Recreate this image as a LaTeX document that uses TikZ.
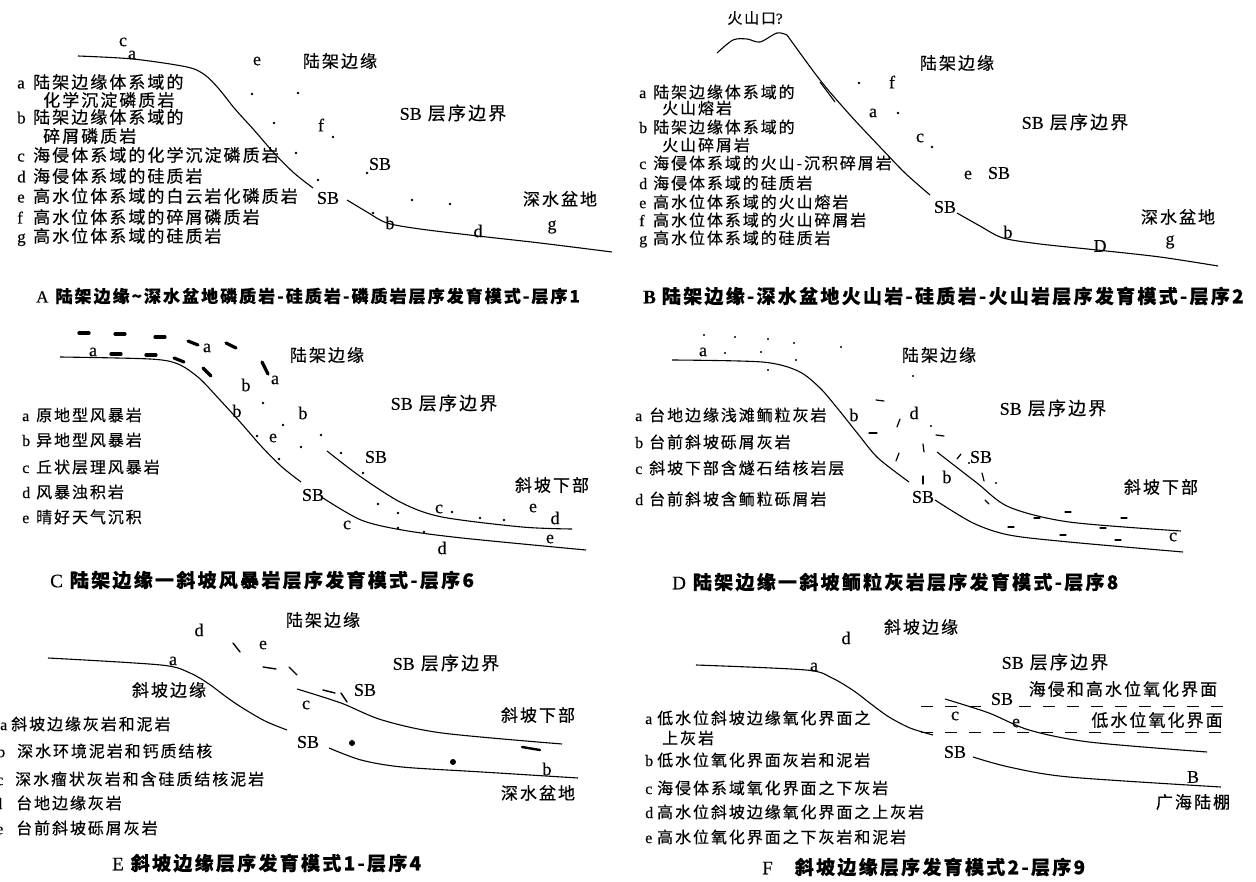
\documentclass[tikz,border=0pt]{standalone}
\usepackage{fontspec}
\setmainfont{Liberation Serif}[FakeBold=0.3]
\newfontfamily\cjk[LetterSpace=12,FakeBold=0.4]{Noto Sans CJK SC}
\newcommand{\zh}[1]{{\cjk #1}}
\newcommand{\key}[3][15pt]{\makebox[#1][l]{#2}\zh{#3}}
\usetikzlibrary{positioning}
\tikzset{
  profile/.style={line width=1.1pt},
  tag/.style={inner sep=0pt, font=\fontsize{18}{18}\selectfont},
  area/.style={inner sep=0pt, font=\cjk\fontsize{17}{17}\selectfont},
  keyline/.style={anchor=west, inner sep=0pt, font=\fontsize{17}{17}\selectfont},
  keysmall/.style={keyline, font=\fontsize{16}{16}\selectfont},
  title/.style={anchor=west, inner sep=0pt, font=\fontsize{19}{19}\selectfont},
  blob/.style={line width=3.2pt, line cap=round},
  chip/.style={line width=1.2pt, line cap=round},
  oxline/.style={line width=0.9pt, dash pattern=on 12pt off 12pt},
}

\begin{document}
\begin{tikzpicture}[x=1pt, y=-1pt]
\fill[white] (0,0) rectangle (1256,882);
\useasboundingbox (0,0) rectangle (1256,882);

% ---------------- A : phosphorite / chert, sequence 1
\draw[profile] plot[smooth] coordinates {(78,56) (133,59) (187,67) (205,75) (219,89) (235,109) (254,130) (274,153) (294,173) (313,188)};
\draw[profile] plot[smooth] coordinates {(347,200) (367,212) (387,223) (420,229) (478,236) (540,243) (612,252)};
\foreach \x/\y in {252/94,298/93,274/123,333/137,296/153,318/180,367/173,373/213,412/200,450/204}
  \fill (\x,\y) circle (1.3);
\node[tag] (Ac) at (123,42) {c};
\node[tag] (Aa) at (132,55) {a};
\node[tag] (Ae) at (257,61) {e};
\node[area] (Ashelf) at (340,61) {陆架边缘};
\node[tag] (Af) at (321,125) {f};
\node[tag] (Asb1) at (380,164) {SB};
\node[tag] (Asb2) at (328,198) {SB};
\node[tag] (Ab) at (390,223) {b};
\node[tag] (Ad) at (478,231) {d};
\node[tag] (Ag) at (552,227) {g};
\node[tag] (Asb) at (453,113) {SB\hspace{6pt}\zh{层序边界}};
\node[area] (Abasin) at (560,199) {深水盆地};
\node[keyline] (Ka) at (17,82) {\key[16pt]{a}{陆架边缘体系域的}};
\node[keyline] (Ka2) at (43,100) {\zh{化学沉淀磷质岩}};
\node[keyline] (Kb) at (17,117) {\key[16pt]{b}{陆架边缘体系域的}};
\node[keyline] (Kb2) at (43,136) {\zh{碎屑磷质岩}};
\node[keyline] (Kc) at (17,155) {\key[16pt]{c}{海侵体系域的化学沉淀磷质岩}};
\node[keyline] (Kd) at (17,176) {\key[16pt]{d}{海侵体系域的硅质岩}};
\node[keyline] (Ke) at (17,196) {\key[16pt]{e}{高水位体系域的白云岩化磷质岩}};
\node[keyline] (Kf) at (17,217) {\key[16pt]{f}{高水位体系域的碎屑磷质岩}};
\node[keyline] (Kg) at (17,237) {\key[16pt]{g}{高水位体系域的硅质岩}};
\node[title, font=\fontsize{17}{17}\selectfont] (capA) at (36,296) {A\hspace{7pt}{\cjk\bfseries 陆架边缘\textasciitilde 深水盆地磷质岩-硅质岩-磷质岩层序发育模式-层序1}};

% ---------------- B : volcanics / chert, sequence 2
\draw[profile] plot[smooth] coordinates {(717,53) (733,40) (747,39) (760,42) (777,33) (787,35)};
\draw[profile] plot[smooth] coordinates {(787,35) (820,80) (850,115) (880,147) (905,173) (930,195)};
\draw[profile] (820,82) -- (835,102);
\draw[profile] plot[smooth] coordinates {(957,213) (980,226) (1003,238) (1040,244) (1097,250) (1160,257) (1218,266)};
\foreach \x/\y in {859/83,898/113,932/147}
  \fill (\x,\y) circle (1.3);
\node[inner sep=0pt, font=\fontsize{15}{15}\selectfont] (vent) at (755,18) {\zh{火山口}?};
\node[area] (Bshelf) at (957,63) {陆架边缘};
\node[tag] (Bf) at (892,82) {f};
\node[tag] (Ba) at (873,113) {a};
\node[tag] (Bc) at (920,138) {c};
\node[tag] (Be) at (968,175) {e};
\node[tag] (Bsb1) at (999,173) {SB};
\node[tag] (Bsb2) at (945,207) {SB};
\node[tag] (Bb) at (1008,232) {b};
\node[tag] (BD) at (1100,246) {D};
\node[tag] (Bg) at (1170,242) {g};
\node[tag] (Bsb) at (1075,122) {SB\hspace{6pt}\zh{层序边界}};
\node[area] (Bbasin) at (1178,217) {深水盆地};
\node[keysmall] (La) at (639,92) {\key[14pt]{a}{陆架边缘体系域的}};
\node[keysmall] (La2) at (662,108) {\zh{火山熔岩}};
\node[keysmall] (Lb) at (639,127) {\key[14pt]{b}{陆架边缘体系域的}};
\node[keysmall] (Lb2) at (662,145) {\zh{火山碎屑岩}};
\node[keysmall] (Lc) at (639,163) {\key[14pt]{c}{海侵体系域的火山-沉积碎屑岩}};
\node[keysmall] (Ld) at (639,183) {\key[14pt]{d}{海侵体系域的硅质岩}};
\node[keysmall] (Le) at (639,202) {\key[14pt]{e}{高水位体系域的火山熔岩}};
\node[keysmall] (Lf) at (639,220) {\key[14pt]{f}{高水位体系域的火山碎屑岩}};
\node[keysmall] (Lg) at (639,239) {\key[14pt]{g}{高水位体系域的硅质岩}};
\node[title] (capB) at (643,296) {\bfseries B\hspace{6pt}{\cjk\bfseries 陆架边缘-深水盆地火山岩-硅质岩-火山岩层序发育模式-层序2}};

% ---------------- C : tempestites, sequence 6
\draw[profile] plot[smooth] coordinates {(60,357) (150,359) (178,364) (199,378) (220,400) (241,423) (262,447) (282,467) (301,482)};
\draw[profile] plot[smooth] coordinates {(327,451) (361,477) (402,503) (442,517) (522,527) (572,529)};
\draw[profile] plot[smooth] coordinates {(323,498) (361,520) (402,530) (462,538) (586,550)};
\foreach \xa/\ya/\xb/\yb in {79/333/89/333,115/334/125/334,155/337/165/337,111/354/121/354,146/355/156/355,
                              188/341/198/345,226/343/236/348,174/358/184/362,203/368/211/376,262/362/268/374}
  \draw[blob] (\xa,\ya) -- (\xb,\yb);
\foreach \x/\y in {263/403,283/425,257/436,321/435,301/447,279/459,341/453,363/473,
                   378/504,398/513,398/528,424/532,452/512,480/518,504/520}
  \fill (\x,\y) circle (1.3);
\node[tag] (Ca1) at (93,352) {a};
\node[tag] (Ca2) at (207,348) {a};
\node[tag] (Ca3) at (275,380) {a};
\node[area] (Cshelf) at (327,355) {陆架边缘};
\node[tag] (Cb1) at (246,385) {b};
\node[tag] (Cb2) at (237,411) {b};
\node[tag] (Cb3) at (303,413) {b};
\node[tag] (Ce1) at (273,438) {e};
\node[tag] (Csb) at (444,403) {SB\hspace{6pt}\zh{层序边界}};
\node[tag] (Csb1) at (376,457) {SB};
\node[tag] (Csb2) at (313,495) {SB};
\node[area] (Cslope) at (552,485) {斜坡下部};
\node[tag] (Cc1) at (439,509) {c};
\node[tag] (Cc2) at (347,525) {c};
\node[tag] (Ce2) at (533,508) {e};
\node[tag] (Cd1) at (555,518) {d};
\node[tag] (Ce3) at (550,539) {e};
\node[tag] (Cd2) at (442,548) {d};
\node[keysmall] (Ma) at (22,415) {\key[14pt]{a}{原地型风暴岩}};
\node[keysmall] (Mb) at (22,440) {\key[14pt]{b}{异地型风暴岩}};
\node[keysmall] (Mc) at (22,467) {\key[14pt]{c}{丘状层理风暴岩}};
\node[keysmall] (Md) at (22,492) {\key[14pt]{d}{风暴浊积岩}};
\node[keysmall] (Me) at (22,517) {\key[14pt]{e}{晴好天气沉积}};
\node[title] (capC) at (50,580) {C\hspace{7pt}{\cjk\bfseries 陆架边缘一斜坡风暴岩层序发育模式-层序6}};

% ---------------- D : oolitic limestone, sequence 8
\draw[profile] plot[smooth] coordinates {(672,360) (762,362) (798,371) (820,388) (838,409) (858,434) (878,458) (909,482)};
\draw[profile] plot[smooth] coordinates {(937,452) (977,483) (1009,507) (1069,522) (1181,531)};
\draw[profile] plot[smooth] coordinates {(935,500) (973,523) (1009,535) (1069,542) (1183,552)};
\foreach \x/\y in {704/335,735/337,768/339,794/343,841/347,725/353,761/352,796/360,768/370,
                   913/376,931/426,969/463,996/483}
  \fill (\x,\y) circle (1.2);
\foreach \xa/\ya/\xb/\yb in {876/400/884/401,869/433/877/433,897/427/900/419,896/461/899/453,
                              923/444/924/452,923/476/923/484,936/435/944/436,957/459/961/454,
                              982/473/984/481,985/500/989/504,
                              1034/518/1040/518,1065/512/1071/512,1121/518/1127/518,1008/527/1014/527,
                              1060/535/1066/535,1100/528/1106/528,1115/540/1121/540}
  \draw[chip] (\xa,\ya) -- (\xb,\yb);
\node[tag] (Da) at (703,352) {a};
\node[area] (Dshelf) at (939,355) {陆架边缘};
\node[tag] (Db1) at (854,415) {b};
\node[tag] (Dd) at (914,413) {d};
\node[tag] (Dsb) at (1053,408) {SB\hspace{6pt}\zh{层序边界}};
\node[tag] (Dsb1) at (981,457) {SB};
\node[tag] (Db2) at (947,477) {b};
\node[tag] (Dsb2) at (923,497) {SB};
\node[area] (Dslope) at (1161,487) {斜坡下部};
\node[tag] (Dc) at (1173,537) {c};
\node[keysmall] (Na) at (635,415) {\key[14pt]{a}{台地边缘浅滩鲕粒灰岩}};
\node[keysmall] (Nb) at (635,442) {\key[14pt]{b}{台前斜坡砾屑灰岩}};
\node[keysmall] (Nc) at (635,468) {\key[14pt]{c}{斜坡下部含燧石结核岩层}};
\node[keysmall] (Nd) at (635,499) {\key[14pt]{d}{台前斜坡含鲕粒砾屑岩}};
\node[title] (capD) at (672,582) {D\hspace{7pt}{\cjk\bfseries 陆架边缘一斜坡鲕粒灰岩层序发育模式-层序8}};

% ---------------- E : slope margin model 1, sequence 4
\draw[profile] plot[smooth] coordinates {(48,658) (161,665) (190,673) (209,684) (225,696) (241,707) (265,721) (287,730)};
\draw[profile] plot[smooth] coordinates {(297,689) (341,703) (382,720) (442,733) (562,744)};
\draw[profile] plot[smooth] coordinates {(329,748) (361,760) (402,767) (482,772) (578,778)};
\foreach \xa/\ya/\xb/\yb in {233/643/240/652,263/667/276/669,289/667/297/675,323/690/335/693,341/693/347/702}
  \draw[chip, line width=1.4pt] (\xa,\ya) -- (\xb,\yb);
\draw[blob, line width=2.4pt] (522,747) -- (540,750);
\fill (352,743) circle (3);
\fill (453,762) circle (3);
\node[area] (Eshelf) at (323,620) {陆架边缘};
\node[tag] (Ed) at (199,630) {d};
\node[tag] (Ee) at (263,645) {e};
\node[tag] (Ea) at (173,661) {a};
\node[area] (Emargin) at (169,690) {斜坡边缘};
\node[tag] (Esb) at (446,663) {SB\hspace{6pt}\zh{层序边界}};
\node[tag] (Esb1) at (365,690) {SB};
\node[tag] (Ec) at (306,705) {c};
\node[area] (Eslope) at (538,715) {斜坡下部};
\node[tag] (Esb2) at (308,742) {SB};
\node[tag] (Eb) at (547,769) {b};
\node[area] (Ebasin) at (538,793) {深水盆地};
\node[keysmall] (Pa) at (0,724) {\key[11pt]{a}{斜坡边缘灰岩和泥岩}};
\node[keysmall] (Pb) at (-3,751) {\key[20pt]{b}{深水环境泥岩和钙质结核}};
\node[keysmall] (Pc) at (-4,779) {\key[19pt]{c}{深水瘤状灰岩和含硅质结核泥岩}};
\node[keysmall] (Pd) at (-6,803) {\key[22pt]{d}{台地边缘灰岩}};
\node[keysmall] (Pe) at (-4,828) {\key[20pt]{e}{台前斜坡砾屑灰岩}};
\node[title] (capE) at (112,863) {E\hspace{7pt}{\cjk\bfseries 斜坡边缘层序发育模式1-层序4}};

% ---------------- F : slope margin model 2, sequence 9
\draw[profile] plot[smooth] coordinates {(696,665) (806,670) (832,678) (854,691) (871,704) (889,717) (910,728) (933,735)};
\draw[profile] plot[smooth] coordinates {(945,699) (989,713) (1029,730) (1089,742) (1207,752)};
\draw[profile] plot[smooth] coordinates {(973,757) (1009,767) (1069,777) (1221,787)};
\draw[oxline] (921,706) -- (987,706);
\draw[oxline] (1019,706) -- (1227,706);
\draw[oxline] (921,732) -- (1227,732);
\node[area] (Fmargin) at (921,627) {斜坡边缘};
\node[tag] (Fd) at (846,638) {d};
\node[tag] (Fa) at (814,667) {a};
\node[tag] (Fsb) at (1055,662) {SB\hspace{6pt}\zh{层序边界}};
\node[tag] (Fsb1) at (1002,699) {SB};
\node[area] (Fox1) at (1123,689) {海侵和高水位氧化界面};
\node[tag] (Fc) at (955,716) {c};
\node[tag] (Fe) at (1016,723) {e};
\node[area] (Fox2) at (1157,720) {低水位氧化界面};
\node[tag] (Fsb2) at (955,752) {SB};
\node[tag] (FB) at (1193,777) {B};
\node[area] (Fshelf) at (1193,802) {广海陆棚};
\node[keysmall] (Qa) at (645,718) {\key[12pt]{a}{低水位斜坡边缘氧化界面之}};
\node[keysmall] (Qa2) at (662,738) {\zh{上灰岩}};
\node[keysmall] (Qb) at (645,760) {\key[12pt]{b}{低水位氧化界面灰岩和泥岩}};
\node[keysmall] (Qc) at (645,788) {\key[12pt]{c}{海侵体系域氧化界面之下灰岩}};
\node[keysmall] (Qd) at (645,812) {\key[12pt]{d}{高水位斜坡边缘氧化界面之上灰岩}};
\node[keysmall] (Qe) at (645,837) {\key[12pt]{e}{高水位氧化界面之下灰岩和泥岩}};
\node[title] (capF) at (762,867) {F\hspace{22pt}{\cjk\bfseries 斜坡边缘层序发育模式2-层序9}};

\end{tikzpicture}
\end{document}
